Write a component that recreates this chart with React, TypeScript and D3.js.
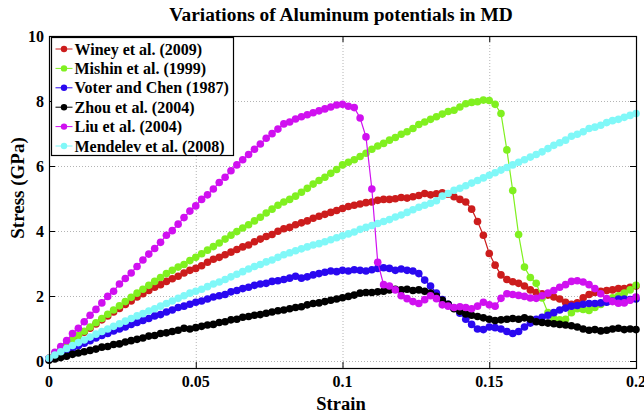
import React from "react";
import * as d3 from "d3";

// Engineering strain at which each stress value was recorded (output every 0.002)
const strain: number[] = d3.range(0, 101).map((i) => i * 0.002);

// Stress (GPa) for each interatomic potential
const winey: number[] = [
  0.10, 0.24, 0.37, 0.50, 0.64, 0.77, 0.90, 1.02, 1.15, 1.28,
  1.40, 1.52, 1.63, 1.75, 1.86, 1.98, 2.08, 2.18, 2.28, 2.36,
  2.46, 2.54, 2.62, 2.72, 2.80, 2.86, 2.94, 3.05, 3.14, 3.20,
  3.28, 3.36, 3.44, 3.52, 3.58, 3.68, 3.76, 3.84, 3.90, 4.00,
  4.08, 4.12, 4.20, 4.26, 4.32, 4.40, 4.46, 4.52, 4.58, 4.64,
  4.70, 4.76, 4.80, 4.84, 4.88, 4.90, 4.95, 4.98, 4.98, 5.00,
  5.04, 5.02, 5.06, 5.10, 5.16, 5.12, 5.15, 5.18, 5.14, 5.06,
  4.98, 4.90, 4.68, 4.30, 3.88, 3.32, 2.96, 2.66, 2.52, 2.45,
  2.40, 2.32, 2.20, 2.12, 2.08, 2.04, 1.98, 1.92, 1.82, 1.76,
  1.80, 1.96, 2.06, 2.12, 2.16, 2.18, 2.20, 2.24, 2.24, 2.28,
  2.32,
];

const mishin: number[] = [
  0.10, 0.24, 0.38, 0.52, 0.66, 0.80, 0.93, 1.06, 1.19, 1.32,
  1.45, 1.58, 1.71, 1.84, 1.97, 2.10, 2.22, 2.34, 2.46, 2.58,
  2.70, 2.80, 2.90, 2.98, 3.10, 3.20, 3.31, 3.42, 3.53, 3.64,
  3.76, 3.88, 3.99, 4.10, 4.20, 4.32, 4.43, 4.56, 4.68, 4.80,
  4.90, 4.98, 5.08, 5.20, 5.32, 5.45, 5.56, 5.66, 5.78, 5.90,
  6.04, 6.12, 6.20, 6.30, 6.40, 6.52, 6.62, 6.70, 6.80, 6.88,
  6.98, 7.06, 7.16, 7.28, 7.36, 7.44, 7.52, 7.60, 7.68, 7.72,
  7.82, 7.92, 7.96, 7.98, 8.03, 8.02, 7.90, 7.62, 6.50, 5.25,
  3.90, 2.90, 2.58, 2.40, 1.95, 1.50, 1.32, 1.28, 1.30, 1.50,
  1.62, 1.60, 1.57, 1.66, 1.75, 1.86, 1.96, 2.02, 2.10, 2.20,
  2.34,
];

const voter: number[] = [
  0.08, 0.16, 0.24, 0.32, 0.40, 0.48, 0.56, 0.64, 0.72, 0.80,
  0.86, 0.94, 1.00, 1.06, 1.14, 1.20, 1.26, 1.32, 1.40, 1.44,
  1.52, 1.58, 1.66, 1.70, 1.76, 1.82, 1.86, 1.92, 1.98, 2.02,
  2.06, 2.14, 2.18, 2.24, 2.28, 2.34, 2.38, 2.40, 2.46, 2.48,
  2.52, 2.56, 2.62, 2.56, 2.60, 2.66, 2.70, 2.74, 2.78, 2.76,
  2.80, 2.78, 2.82, 2.80, 2.78, 2.82, 2.86, 2.88, 2.86, 2.80,
  2.84, 2.80, 2.78, 2.70, 2.50, 2.32, 2.10, 1.90, 1.76, 1.64,
  1.48, 1.30, 1.14, 1.00, 0.98, 1.06, 1.04, 1.00, 0.92, 0.86,
  0.92, 1.06, 1.18, 1.30, 1.36, 1.42, 1.50, 1.58, 1.64, 1.70,
  1.72, 1.76, 1.78, 1.78, 1.80, 1.82, 1.86, 1.92, 1.92, 1.90,
  1.92,
];

const zhou: number[] = [
  0.04, 0.08, 0.12, 0.16, 0.22, 0.26, 0.30, 0.34, 0.38, 0.44,
  0.46, 0.52, 0.54, 0.60, 0.64, 0.68, 0.72, 0.78, 0.80, 0.86,
  0.88, 0.92, 0.96, 1.02, 1.00, 1.04, 1.08, 1.12, 1.14, 1.20,
  1.22, 1.28, 1.30, 1.36, 1.38, 1.42, 1.44, 1.48, 1.52, 1.56,
  1.58, 1.62, 1.66, 1.68, 1.74, 1.78, 1.80, 1.84, 1.88, 1.92,
  1.96, 2.00, 2.04, 2.10, 2.12, 2.12, 2.14, 2.16, 2.20, 2.22,
  2.20, 2.22, 2.18, 2.20, 2.16, 2.10, 2.00, 1.88, 1.76, 1.62,
  1.54, 1.46, 1.42, 1.38, 1.34, 1.30, 1.26, 1.28, 1.30, 1.32,
  1.30, 1.34, 1.30, 1.22, 1.20, 1.18, 1.16, 1.14, 1.12, 1.10,
  1.06, 1.00, 0.96, 0.98, 0.94, 0.96, 1.00, 1.02, 0.98, 1.00,
  0.98,
];

const liu: number[] = [
  0.10, 0.28, 0.46, 0.64, 0.86, 1.02, 1.22, 1.42, 1.60, 1.80,
  2.00, 2.16, 2.38, 2.55, 2.72, 2.92, 3.12, 3.30, 3.47, 3.66,
  3.88, 4.02, 4.22, 4.42, 4.62, 4.78, 4.98, 5.12, 5.30, 5.50,
  5.66, 5.86, 6.04, 6.20, 6.36, 6.52, 6.68, 6.86, 7.00, 7.14,
  7.30, 7.36, 7.45, 7.52, 7.58, 7.64, 7.70, 7.76, 7.82, 7.88,
  7.90, 7.84, 7.80, 7.48, 6.90, 5.30, 3.05, 2.36, 2.32, 2.20,
  2.02, 1.93, 1.84, 1.78, 1.90, 2.02, 1.93, 1.74, 1.70, 1.66,
  1.68, 1.66, 1.62, 1.70, 1.82, 1.74, 1.70, 1.94, 2.08, 2.06,
  2.03, 2.00, 1.95, 1.94, 2.02, 2.10, 2.18, 2.28, 2.36, 2.46,
  2.48, 2.44, 2.36, 2.24, 2.08, 1.93, 1.84, 1.79, 1.80, 1.88,
  1.98,
];

const mendelev: number[] = [
  0.10, 0.20, 0.30, 0.40, 0.49, 0.58, 0.66, 0.75, 0.84, 0.92,
  1.00, 1.08, 1.16, 1.24, 1.32, 1.40, 1.47, 1.55, 1.62, 1.70,
  1.78, 1.86, 1.94, 2.02, 2.10, 2.16, 2.22, 2.30, 2.38, 2.44,
  2.52, 2.60, 2.68, 2.76, 2.84, 2.92, 2.98, 3.06, 3.12, 3.20,
  3.28, 3.34, 3.40, 3.46, 3.52, 3.58, 3.62, 3.68, 3.74, 3.80,
  3.86, 3.92, 3.98, 4.06, 4.12, 4.18, 4.24, 4.30, 4.36, 4.44,
  4.50, 4.58, 4.66, 4.74, 4.80, 4.86, 4.94, 5.08, 5.16, 5.26,
  5.32, 5.40, 5.48, 5.56, 5.64, 5.72, 5.80, 5.88, 5.96, 6.04,
  6.12, 6.20, 6.28, 6.36, 6.44, 6.54, 6.64, 6.72, 6.80, 6.92,
  6.98, 7.06, 7.16, 7.20, 7.26, 7.34, 7.40, 7.44, 7.50, 7.56,
  7.62,
];

const seriesNames: string[] = [
  "Winey et al. (2009)",
  "Mishin et al. (1999)",
  "Voter and Chen (1987)",
  "Zhou et al. (2004)",
  "Liu et al. (2004)",
  "Mendelev et al. (2008)",
];
const seriesValues: number[][] = [winey, mishin, voter, zhou, liu, mendelev];
const seriesColors: string[] = ["#cc1c1c", "#80f020", "#2a08f0", "#000000", "#d010f0", "#80f8f8"];

const xTicks: number[] = [0, 0.05, 0.1, 0.15, 0.2];
const xTickLabels: string[] = ["0", "0.05", "0.1", "0.15", "0.2"];
const yTicks: number[] = [0, 2, 4, 6, 8, 10];

const W = 644;
const H = 415;
const left = 49;
const right = 636;
const top = 36;
const bottom = 368;
const textStyle: React.CSSProperties = { fontFamily: "Liberation Serif", fontWeight: 700 };

export default function App() {
  const x = d3.scaleLinear().domain([0, 0.2]).range([left, right]);
  const y = d3.scaleLinear().domain([-0.2, 10]).range([bottom, top]);
  const line = d3
    .line<[number, number]>()
    .x((d) => x(d[0]))
    .y((d) => y(d[1]));

  const tickLen = 6;
  const legendX = 51.5;
  const legendY = 37.5;
  const legendW = 182;
  const legendH = 118;
  const rowH = 19.4;

  return (
    <svg
      width={W}
      height={H}
      style={{ position: "absolute", left: 0, top: 0, background: "#fff" }}
    >
      <rect x={0} y={0} width={W} height={H} fill="#fff" />
      <text x={341} y={21} textAnchor="middle" fontSize={19.4} style={textStyle}>
        Variations of Aluminum potentials in MD
      </text>

      {/* grid */}
      <g stroke="#b4b4b4" strokeWidth={1} strokeDasharray="1,2">
        {xTicks.slice(1, -1).map((t) => (
          <line key={"gx" + t} x1={x(t) + 0.5} x2={x(t) + 0.5} y1={top} y2={bottom} />
        ))}
        {yTicks.slice(0, -1).map((t) => (
          <line key={"gy" + t} x1={left} x2={right} y1={Math.round(y(t)) + 0.5} y2={Math.round(y(t)) + 0.5} />
        ))}
      </g>

      {/* ticks on all four sides */}
      <g stroke="#000" strokeWidth={1}>
        {xTicks.map((t) => (
          <g key={"tx" + t}>
            <line x1={x(t) + 0.5} x2={x(t) + 0.5} y1={bottom} y2={bottom - tickLen} />
            <line x1={x(t) + 0.5} x2={x(t) + 0.5} y1={top} y2={top + tickLen} />
          </g>
        ))}
        {yTicks.map((t) => (
          <g key={"ty" + t}>
            <line x1={left} x2={left + tickLen} y1={Math.round(y(t)) + 0.5} y2={Math.round(y(t)) + 0.5} />
            <line x1={right} x2={right - tickLen} y1={Math.round(y(t)) + 0.5} y2={Math.round(y(t)) + 0.5} />
          </g>
        ))}
      </g>

      {/* series */}
      {seriesValues.map((vals, si) => {
        const pts: [number, number][] = vals.map((v, i) => [strain[i], v]);
        return (
          <g key={"s" + si}>
            <path d={line(pts) || ""} fill="none" stroke={seriesColors[si]} strokeWidth={1.2} />
            {pts.map((p, i) => (
              <circle key={i} cx={x(p[0])} cy={y(p[1])} r={3.8} fill={seriesColors[si]} />
            ))}
          </g>
        );
      })}

      {/* axes box */}
      <rect x={left + 0.5} y={top + 0.5} width={right - left} height={bottom - top} fill="none" stroke="#000" strokeWidth={1.2} />

      {/* tick labels */}
      {xTicks.map((t, i) => (
        <text key={"lx" + t} x={x(t)} y={387} textAnchor="middle" fontSize={16} style={textStyle}>
          {xTickLabels[i]}
        </text>
      ))}
      {yTicks.map((t) => (
        <text key={"ly" + t} x={44} y={y(t) + 5.5} textAnchor="end" fontSize={16} style={textStyle}>
          {t}
        </text>
      ))}

      <text x={341} y={410} textAnchor="middle" fontSize={18.5} style={textStyle}>
        Strain
      </text>
      <text transform="translate(24,188) rotate(-90)" textAnchor="middle" fontSize={19} style={textStyle}>
        Stress (GPa)
      </text>

      {/* legend */}
      <g>
        <rect x={legendX} y={legendY} width={legendW} height={legendH} fill="#fff" stroke="#000" strokeWidth={1.2} />
        {seriesNames.map((name, i) => {
          const cy = legendY + 11.5 + i * rowH;
          return (
            <g key={"lg" + i}>
              <line x1={legendX + 4} x2={legendX + 21} y1={cy} y2={cy} stroke={seriesColors[i]} strokeWidth={1} />
              <circle cx={legendX + 12.5} cy={cy} r={3.2} fill={seriesColors[i]} />
              <text x={legendX + 23} y={cy + 5.5} fontSize={16} style={textStyle}>
                {name}
              </text>
            </g>
          );
        })}
      </g>
    </svg>
  );
}
